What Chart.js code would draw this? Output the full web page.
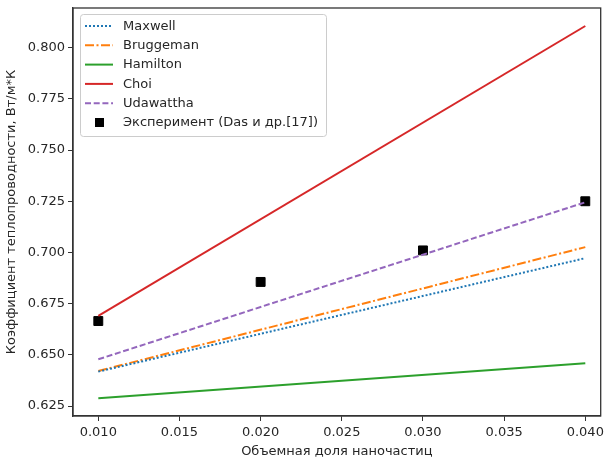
<!DOCTYPE html>
<html>
<head>
<meta charset="utf-8">
<script src="https://cdn.jsdelivr.net/npm/chart.js@4.4.1/dist/chart.umd.min.js"></script>
<style>
html,body{margin:0;padding:0;background:#fff;}
#wrap{width:608px;height:459px;}
</style>
</head>
<body>
<div id="wrap"><canvas id="c" width="608" height="459"></canvas></div>
<script>
// ---- data ----
const phiModel = [0.010, 0.040];
const phiExp = [0.010, 0.020, 0.030, 0.040];
const maxwell = [0.6418, 0.6972];
const bruggeman = [0.6421, 0.7026];
const hamilton = [0.6288, 0.6459];
const choi = [0.6690, 0.8106];
const udawattha = [0.6478, 0.7245];
const experiment = [0.6665, 0.6856, 0.7010, 0.7250];
const seriesLabels = ['Maxwell', 'Bruggeman', 'Hamilton', 'Choi', 'Udawattha', 'Эксперимент (Das и др.[17])'];
const xTicks = [0.010, 0.015, 0.020, 0.025, 0.030, 0.035, 0.040];
const yTicks = [0.625, 0.650, 0.675, 0.700, 0.725, 0.750, 0.775, 0.800];
const xTitle = 'Объемная доля наночастиц';
const yTitle = 'Коэффициент теплопроводности, Вт/м*К';

const FONT = 'DejaVu Sans';
const TEXT = '#262626';
const AXIS = '#333333';

function pts(xs, ys){ return xs.map((x,i)=>({x:x, y:ys[i]})); }

const lineBase = {type:'line', pointRadius:0, borderWidth:2, tension:0, fill:false};
const datasets = [
  Object.assign({}, lineBase, {label:seriesLabels[0], data:pts(phiModel, maxwell), borderColor:'#1f77b4', borderDash:[2,2]}),
  Object.assign({}, lineBase, {label:seriesLabels[1], data:pts(phiModel, bruggeman), borderColor:'#ff7f0e', borderDash:[9,2.5,2,2.5]}),
  Object.assign({}, lineBase, {label:seriesLabels[2], data:pts(phiModel, hamilton), borderColor:'#2ca02c'}),
  Object.assign({}, lineBase, {label:seriesLabels[3], data:pts(phiModel, choi), borderColor:'#d62728'}),
  Object.assign({}, lineBase, {label:seriesLabels[4], data:pts(phiModel, udawattha), borderColor:'#9467bd', borderDash:[6,2.7]}),
  {type:'scatter', label:seriesLabels[5], data:pts(phiExp, experiment), showLine:false,
   pointStyle:'rect', pointRadius:6.3, pointHoverRadius:6.3, backgroundColor:'#000', borderColor:'#000', borderWidth:1}
];

const framePlugin = {
  id:'frame',
  afterDraw(chart){
    const {ctx, chartArea:a} = chart;
    ctx.save();
    ctx.strokeStyle = AXIS; ctx.lineWidth = 1.3;
    ctx.strokeRect(a.left, a.top, a.right - a.left, a.bottom - a.top);
    ctx.restore();
  }
};

const legendPlugin = {
  id:'boxLegend',
  afterDraw(chart){
    const ctx = chart.ctx;
    const bx = 80.5, by = 14.5, bw = 246, bh = 122, r = 3;
    ctx.save();
    ctx.beginPath();
    ctx.moveTo(bx + r, by);
    ctx.arcTo(bx + bw, by, bx + bw, by + bh, r);
    ctx.arcTo(bx + bw, by + bh, bx, by + bh, r);
    ctx.arcTo(bx, by + bh, bx, by, r);
    ctx.arcTo(bx, by, bx + bw, by, r);
    ctx.closePath();
    ctx.fillStyle = 'rgba(255,255,255,0.8)';
    ctx.fill();
    ctx.strokeStyle = '#cccccc'; ctx.lineWidth = 1;
    ctx.stroke();
    chart.data.datasets.forEach((ds, i) => {
      const y = 26 + i * 19.3;
      if (ds.showLine === false) {
        ctx.fillStyle = ds.backgroundColor;
        ctx.fillRect(95, y - 4.5, 9, 9);
      } else {
        ctx.beginPath();
        ctx.setLineDash(ds.borderDash || []);
        ctx.strokeStyle = ds.borderColor; ctx.lineWidth = ds.borderWidth;
        ctx.moveTo(85, y); ctx.lineTo(113, y);
        ctx.stroke();
        ctx.setLineDash([]);
      }
      ctx.fillStyle = TEXT;
      ctx.font = '13px "' + FONT + '"';
      ctx.textBaseline = 'middle';
      ctx.textAlign = 'left';
      ctx.fillText(ds.label, 123, y + 0.5);
    });
    ctx.restore();
  }
};

function zeroPad(s){ s.paddingTop = 0; s.paddingBottom = 0; s.paddingLeft = 0; s.paddingRight = 0; }

new Chart(document.getElementById('c'), {
  data:{datasets:datasets},
  options:{
    responsive:false,
    devicePixelRatio:1,
    animation:false,
    layout:{padding:{top:8, right:0, left:0, bottom:0}},
    plugins:{legend:{display:false}, tooltip:{enabled:false}},
    scales:{
      x:{
        type:'linear', min:0.008441, max:0.040949,
        afterBuildTicks(s){ s.ticks = xTicks.map(v=>({value:v})); },
        afterFit(s){ s.height = 43; zeroPad(s); },
        ticks:{color:TEXT, font:{family:FONT, size:13}, padding:4, maxRotation:0, autoSkip:false,
               callback:(v)=>Number(v).toFixed(3)},
        grid:{drawOnChartArea:false, drawTicks:true, tickLength:5, color:AXIS},
        border:{display:true, color:AXIS, width:1.3},
        title:{display:true, text:xTitle, color:TEXT, font:{family:FONT, size:13}, padding:{top:1, bottom:0}}
      },
      y:{
        type:'linear', min:0.620116, max:0.819390,
        afterBuildTicks(s){ s.ticks = yTicks.map(v=>({value:v})); },
        afterFit(s){ s.width = 73; zeroPad(s); },
        ticks:{color:TEXT, font:{family:FONT, size:13}, padding:3, autoSkip:false,
               callback:(v)=>Number(v).toFixed(3)},
        grid:{drawOnChartArea:false, drawTicks:true, tickLength:5, color:AXIS},
        border:{display:true, color:AXIS, width:1.3},
        title:{display:true, text:yTitle, color:TEXT, font:{family:FONT, size:13}, padding:{top:4, bottom:0}}
      }
    }
  },
  plugins:[framePlugin, legendPlugin]
});
</script>
</body>
</html>
